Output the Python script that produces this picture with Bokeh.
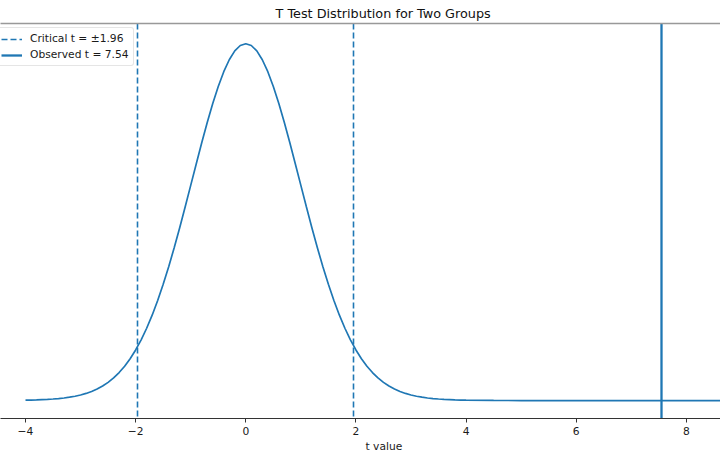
from bokeh.plotting import figure
from bokeh.models import (Range1d, LinearAxis, FixedTicker, Legend, LegendItem,
                          Title, ColumnDataSource)
from bokeh.embed import file_html
from bokeh.resources import INLINE

# ---- data ----
t_values = [-4.0, -3.9, -3.8, -3.7, -3.6, -3.5, -3.4, -3.3, -3.2, -3.1,
            -3.0, -2.9, -2.8, -2.7, -2.6, -2.5, -2.4, -2.3, -2.2, -2.1,
            -2.0, -1.9, -1.8, -1.7, -1.6, -1.5, -1.4, -1.3, -1.2, -1.1,
            -1.0, -0.9, -0.8, -0.7, -0.6, -0.5, -0.4, -0.3, -0.2, -0.1,
            0.0,
            0.1, 0.2, 0.3, 0.4, 0.5, 0.6, 0.7, 0.8, 0.9, 1.0,
            1.1, 1.2, 1.3, 1.4, 1.5, 1.6, 1.7, 1.8, 1.9, 2.0,
            2.1, 2.2, 2.3, 2.4, 2.5, 2.6, 2.7, 2.8, 2.9, 3.0,
            3.1, 3.2, 3.3, 3.4, 3.5, 3.6, 3.7, 3.8, 3.9, 4.0,
            4.5, 5.0, 6.0, 7.0, 8.0, 9.0]
density = [0.0004, 0.0005, 0.0007, 0.0010, 0.0013, 0.0017, 0.0022, 0.0028, 0.0037, 0.0048,
           0.0062, 0.0079, 0.0101, 0.0128, 0.0161, 0.0202, 0.0251, 0.0311, 0.0381, 0.0465,
           0.0562, 0.0674, 0.0803, 0.0948, 0.1111, 0.1291, 0.1487, 0.1697, 0.1920, 0.2152,
           0.2390, 0.2628, 0.2863, 0.3088, 0.3299, 0.3489, 0.3653, 0.3786, 0.3884, 0.3944,
           0.3964,
           0.3944, 0.3884, 0.3786, 0.3653, 0.3489, 0.3299, 0.3088, 0.2863, 0.2628, 0.2390,
           0.2152, 0.1920, 0.1697, 0.1487, 0.1291, 0.1111, 0.0948, 0.0803, 0.0674, 0.0562,
           0.0465, 0.0381, 0.0311, 0.0251, 0.0202, 0.0161, 0.0128, 0.0101, 0.0079, 0.0062,
           0.0048, 0.0037, 0.0028, 0.0022, 0.0017, 0.0013, 0.0010, 0.0007, 0.0005, 0.0004,
           0.0001, 0.0000, 0.0000, 0.0000, 0.0000, 0.0000]
critical_t = 1.96
observed_t = 7.54
x_ticks = [-4, -2, 0, 2, 4, 6, 8]
x_tick_labels = ["\u22124", "\u22122", "0", "2", "4", "6", "8"]

title_text = "T Test Distribution for Two Groups"
x_label = "t value"
crit_label = "Critical t = \u00b1%.2f" % critical_t
obs_label = "Observed t = %.2f" % observed_t

BLUE = "#1f77b4"
FONT = "DejaVu Sans"
SMALL = "10.7px"
DASH = "6 3"
nan = float("nan")

p = figure(width=720, height=460, output_backend="svg", toolbar_location=None,
           x_range=Range1d(-4.454, 8.62), y_range=Range1d(-0.01995, 0.41885),
           y_axis_location=None, x_axis_location=None,
           min_border_left=0, min_border_right=0, min_border_top=23,
           min_border_bottom=42)
p.outline_line_color = None
p.grid.visible = False
p.background_fill_color = "white"
p.border_fill_color = "white"

# bottom axis
xa = LinearAxis(ticker=FixedTicker(ticks=x_ticks))
xa.major_label_overrides = {t: l for t, l in zip(x_ticks, x_tick_labels)}
xa.major_tick_out = 4
xa.major_tick_in = 0
xa.minor_tick_out = 0
xa.minor_tick_in = 0
xa.major_label_standoff = 4
xa.major_label_text_font = FONT
xa.major_label_text_font_size = SMALL
xa.major_label_text_color = "#1a1a1a"
xa.axis_line_color = "#333333"
xa.major_tick_line_color = "#333333"
p.add_layout(xa, "below")

# x label as a title placed below the axis
xt = Title(text=x_label, align="left", offset=365, text_font=FONT,
           text_font_size=SMALL, text_font_style="normal", text_color="#1a1a1a",
           standoff=1)
p.add_layout(xt, "below")

# top spine
ta = LinearAxis(ticker=FixedTicker(ticks=[]))
ta.major_tick_out = 0
ta.major_tick_in = 0
ta.minor_tick_out = 0
ta.minor_tick_in = 0
ta.major_label_text_font_size = "0px"
ta.axis_line_color = "#999999"
ta.axis_line_width = 1.5
p.add_layout(ta, "above")

# chart title
tt = Title(text=title_text, align="left", offset=275, text_font=FONT,
           text_font_size="12.8px", text_font_style="normal", text_color="#111111",
           standoff=5)
p.add_layout(tt, "above")

# curve
src = ColumnDataSource(dict(t=t_values, d=density))
p.line("t", "d", source=src, line_color=BLUE, line_width=1.7)

# vertical lines
p.vspan(x=[-critical_t, critical_t], line_color=BLUE, line_width=1.6, line_dash=DASH)
p.vspan(x=[observed_t], line_color=BLUE, line_width=2.3)

# legend proxies (no visible data)
r_crit = p.line(x=[nan, nan], y=[nan, nan], line_color=BLUE, line_width=1.6, line_dash=DASH)
r_obs = p.line(x=[nan, nan], y=[nan, nan], line_color=BLUE, line_width=2.3)
legend = Legend(items=[LegendItem(label=crit_label, renderers=[r_crit]),
                       LegendItem(label=obs_label, renderers=[r_obs])],
                location=(-4, 352))
legend.label_text_font = FONT
legend.label_text_font_size = SMALL
legend.label_text_color = "#1a1a1a"
legend.glyph_width = 21
legend.glyph_height = 12
legend.label_height = 12
legend.spacing = 3
legend.padding = 4
legend.margin = 0
legend.label_standoff = 8
legend.border_line_color = "#cccccc"
legend.border_line_width = 1
legend.border_radius = 3
legend.background_fill_alpha = 0.8
p.add_layout(legend, "center")

open("out.html", "w").write(file_html(p, INLINE))
